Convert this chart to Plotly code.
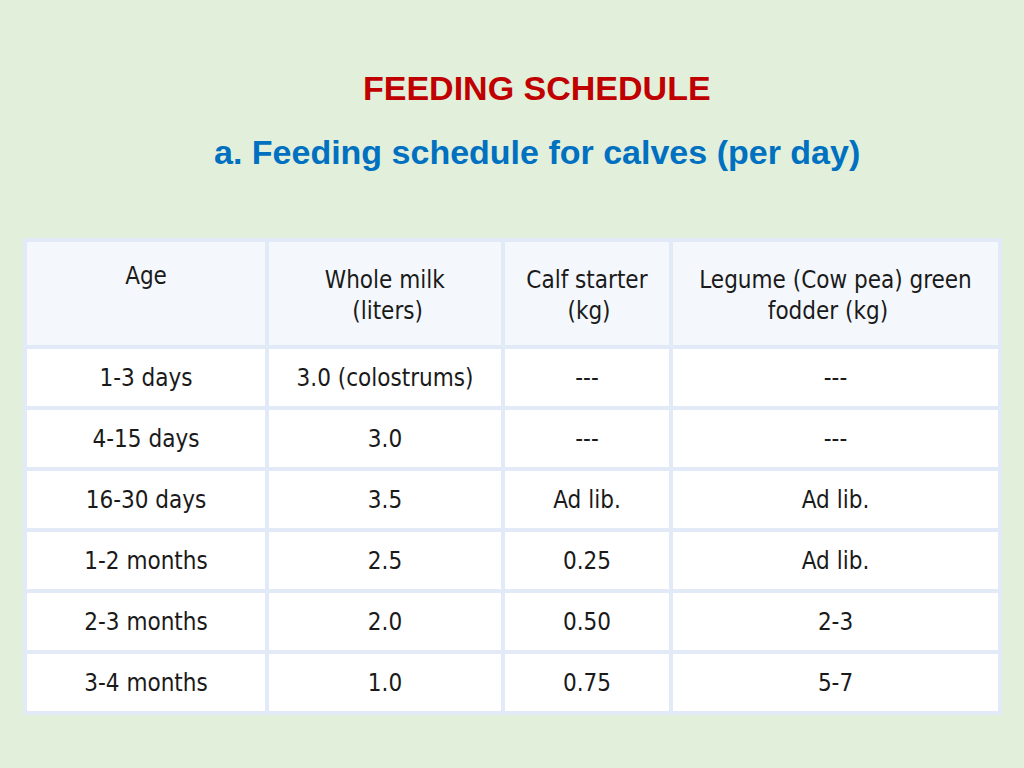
import plotly.graph_objects as go

NB = "&nbsp;"
header = ["Age",
          "Whole milk<br>" + NB * 4 + "(liters)",
          "Calf starter<br>" + NB * 6 + "(kg)",
          "Legume (Cow pea) green<br>" + NB * 10 + "fodder (kg)"]
age = ["1-3 days", "4-15 days", "16-30 days", "1-2 months", "2-3 months", "3-4 months"]
whole_milk = ["3.0 (colostrums)", "3.0", "3.5", "2.5", "2.0", "1.0"]
calf_starter = ["---", "---", "Ad lib.", "0.25", "0.50", "0.75"]
legume_fodder = ["---", "---", "Ad lib.", "Ad lib.", "2-3", "5-7"]

FONT = "DejaVu Sans Condensed, Liberation Sans Narrow, sans-serif"
BORDER = "#e1eaf6"

fig = go.Figure(go.Table(
    domain=dict(x=[25/1024, 1000/1024], y=[1 - 718/768, 1 - 240/768]),
    columnwidth=[242, 236, 168, 329],
    header=dict(
        values=header,
        fill_color="#f4f8fd",
        line=dict(color=BORDER, width=4),
        align="center",
        height=107,
        font=dict(family=FONT, size=24, color="#1a1a1a"),
    ),
    cells=dict(
        values=[age, whole_milk, calf_starter, legume_fodder],
        fill_color="white",
        line=dict(color=BORDER, width=4),
        align="center",
        height=61,
        font=dict(family=FONT, size=24, color="#1a1a1a"),
    ),
))

fig.add_annotation(text="<b>FEEDING SCHEDULE</b>", x=537/1024, y=1 - 88/768,
                   xref="paper", yref="paper", showarrow=False, yanchor="middle",
                   font=dict(family="Liberation Sans, Arial, sans-serif", size=34, color="#c00000"))
fig.add_annotation(text="<b>a. Feeding schedule for calves (per day)</b>", x=537/1024, y=1 - 152/768,
                   xref="paper", yref="paper", showarrow=False, yanchor="middle",
                   font=dict(family="Liberation Sans, Arial, sans-serif", size=34, color="#0070c0"))

fig.update_layout(
    width=1024, height=768,
    margin=dict(l=0, r=0, t=0, b=0),
    paper_bgcolor="#e2efda",
    plot_bgcolor="#e2efda",
)

post = (
    "document.body.style.margin='0';"
    "document.body.style.background='#e2efda';"
    "var st=document.createElement('style');"
    "st.textContent='.cell-text{translate:0 13px;} #header .cell-text{translate:0 18px;}';"
    "document.head.appendChild(st);"
)
fig.write_html("out.html", config={"displayModeBar": False}, post_script=post)
